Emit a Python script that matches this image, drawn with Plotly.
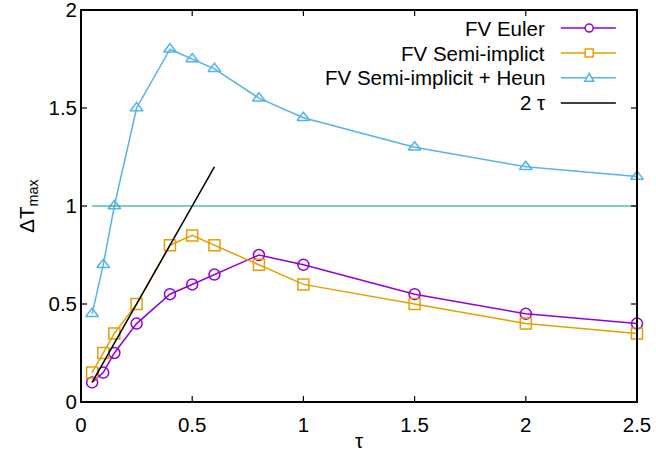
import plotly.graph_objects as go

tau = [0.05, 0.1, 0.15, 0.25, 0.4, 0.5, 0.6, 0.8, 1.0, 1.5, 2.0, 2.5]
euler = [0.1, 0.15, 0.25, 0.4, 0.55, 0.6, 0.65, 0.75, 0.7, 0.55, 0.45, 0.4]
semi = [0.15, 0.25, 0.35, 0.5, 0.8, 0.85, 0.8, 0.7, 0.6, 0.5, 0.4, 0.35]
heun = [0.45, 0.7, 1.0, 1.5, 1.8, 1.75, 1.7, 1.55, 1.45, 1.3, 1.2, 1.15]
line2tau_x = [0.05, 0.6]
line2tau_y = [2 * v for v in line2tau_x]
ref_x = [0.05, 2.5]
ref_y = [1.0, 1.0]
names = ["FV Euler", "FV Semi-implict", "FV Semi-implicit + Heun", "2 τ"]
colors = ["#9400D3", "#E69F00", "#56B4E9", "#000000"]
symbols = ["circle-open", "square-open", "triangle-up-open", None]
xticks = [0, 0.5, 1, 1.5, 2, 2.5]
yticks = [0, 0.5, 1, 1.5, 2]

FONT = "Liberation Sans, Arial, sans-serif"
fs = 20.5

fig = go.Figure()
for ys, c, s in zip([euler, semi, heun], colors[:3], symbols[:3]):
    fig.add_trace(go.Scatter(x=tau, y=ys, mode="lines+markers",
                             line=dict(color=c, width=1.5),
                             marker=dict(symbol=s, size=11, color=c, line=dict(width=1.5, color=c)),
                             showlegend=False, cliponaxis=False))
fig.add_trace(go.Scatter(x=ref_x, y=ref_y, mode="lines", line=dict(color="#009E73", width=1.2), showlegend=False))
fig.add_trace(go.Scatter(x=line2tau_x, y=line2tau_y, mode="lines", line=dict(color="#000000", width=1.5), showlegend=False))

# custom gnuplot-style legend: text right-aligned, sample to the right
leg_y = [0.954, 0.890, 0.827, 0.763]
lx0, lx1, lxm = 0.863, 0.962, 0.914
for i, (n, c, s) in enumerate(zip(names, colors, symbols)):
    y = leg_y[i]
    fig.add_shape(type="line", xref="paper", yref="paper", x0=lx0, x1=lx1, y0=y, y1=y,
                  line=dict(color=c, width=1.5), opacity=1)
    common = dict(xref="paper", yref="paper", xsizemode="pixel", ysizemode="pixel",
                  xanchor=lxm, yanchor=y, line=dict(color=c, width=1.5), fillcolor="white", opacity=1)
    if s == "circle-open":
        fig.add_shape(type="circle", x0=-4, x1=4, y0=-4, y1=4, **common)
    elif s == "square-open":
        fig.add_shape(type="rect", x0=-4, x1=4, y0=-4, y1=4, **common)
    elif s == "triangle-up-open":
        fig.add_shape(type="path", path="M-4.5,-3.5 L4.5,-3.5 L0,4.5 Z", **common)
    fig.add_annotation(xref="paper", yref="paper", x=0.838, y=y, text=n, showarrow=False,
                       xanchor="right", yanchor="middle", font=dict(family=FONT, size=fs, color="black"))

# gnuplot-style frame and inward ticks on all four sides
fig.add_shape(type="rect", xref="paper", yref="paper", x0=0, x1=1, y0=0, y1=1,
              line=dict(color="black", width=2), layer="above", opacity=1)
TL = 6
for xv in xticks:
    for anc, sgn in ((0, 1), (1, -1)):
        fig.add_shape(type="line", xref="x", yref="paper", ysizemode="pixel", yanchor=anc,
                      x0=xv, x1=xv, y0=0, y1=sgn * TL, line=dict(color="black", width=1.2), opacity=1)
for yv in yticks:
    for anc, sgn in ((0, 1), (1, -1)):
        fig.add_shape(type="line", xref="paper", yref="y", xsizemode="pixel", xanchor=anc,
                      y0=yv, y1=yv, x0=0, x1=sgn * TL, line=dict(color="black", width=1.2), opacity=1)

axis_common = dict(showline=False, ticks="", showgrid=False, zeroline=False,
                   automargin=False, ticklabeloverflow="allow",
                   tickfont=dict(family=FONT, size=fs, color="black"))
fig.update_layout(
    template="none",
    width=656, height=452, plot_bgcolor="white", paper_bgcolor="white",
    margin=dict(l=81, r=19, t=10, b=50),
    xaxis=dict(range=[0, 2.5], tickvals=xticks, ticktext=[f"{v:g}" for v in xticks],
               ticklabelstandoff=8,
               title=dict(text="τ", font=dict(family=FONT, size=fs, color="black"), standoff=0), **axis_common),
    yaxis=dict(range=[0, 2], tickvals=yticks, ticktext=[f"{v:g}" for v in yticks],
               ticklabelstandoff=3,
               title=dict(text="ΔT<sub>max</sub>", font=dict(family=FONT, size=fs, color="black"), standoff=8), **axis_common),
)
fig.write_html("out.html")
